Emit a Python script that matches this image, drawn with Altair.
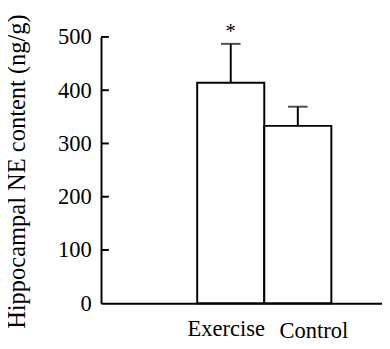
import json
import altair as alt
import pandas as pd

groups = ["Exercise", "Control"]
positions = [1, 2]
means = [414, 333]
errors = [73, 36]
sig_marks = ["*", ""]
y_tick_values = [0, 100, 200, 300, 400, 500]
inner_ticks = [100, 200, 300, 400, 500]

df = pd.DataFrame({"group": groups, "pos": positions, "mean": means, "err": errors, "sig": sig_marks})
df["upper"] = df["mean"] + df["err"]
df["left"] = df["pos"] - 0.5
df["right"] = df["pos"] + 0.5
ticks_df = pd.DataFrame({"v": inner_ticks})

FONT = "'Liberation Serif', 'Times New Roman', Times, serif"

xscale = alt.Scale(domain=[-0.934, 3.255], nice=False, zero=False)
yscale = alt.Scale(domain=[0, 500], nice=False)

label_expr = json.dumps(groups).replace('"', "'") + "[datum.value - 1]"

x_axis = alt.Axis(
    title=None, values=positions, ticks=False, tickSize=0, labelAngle=0, grid=False,
    labelExpr=label_expr,
    labelBaseline="alphabetic", labelAlign="center",
    labelPadding={"condition": {"test": "datum.value === 2", "value": 35}, "value": 33},
    labelOffset={"condition": {"test": "datum.value === 2", "value": 16}, "value": -5},
)
y_axis = alt.Axis(
    title="Hippocampal NE content (ng/g)", values=y_tick_values,
    ticks=False, tickSize=0, labelPadding=10,
    titleX=-78, titleY=137, titleAlign="center", titleBaseline="alphabetic",
    grid=False,
)

bars = alt.Chart(df).mark_bar(fill="white", stroke="black", strokeWidth=2).encode(
    x=alt.X("left:Q", scale=xscale, axis=x_axis), x2="right:Q",
    y=alt.Y("mean:Q", scale=yscale, axis=y_axis), y2=alt.datum(0),
)
err_rules = alt.Chart(df).mark_rule(color="black", strokeWidth=2).encode(
    x=alt.X("pos:Q", scale=xscale), y=alt.Y("mean:Q", scale=yscale), y2="upper:Q"
)
caps = alt.Chart(df).mark_tick(color="black", thickness=2, size=20, orient="horizontal").encode(
    x=alt.X("pos:Q", scale=xscale), y=alt.Y("upper:Q", scale=yscale)
)
stars = alt.Chart(df).mark_text(font=FONT, fontSize=21, baseline="alphabetic", dy=-6, color="black").encode(
    x=alt.X("pos:Q", scale=xscale), y=alt.Y("upper:Q", scale=yscale), text="sig:N"
)
yticks = alt.Chart(ticks_df).mark_rule(color="black", strokeWidth=2).encode(
    y=alt.Y("v:Q", scale=yscale), x=alt.value(0), x2=alt.value(8)
)

chart = alt.layer(bars, yticks, err_rules, caps, stars).properties(
    width=287, height=272,
    autosize=alt.AutoSizeParams(type="none"),
    padding={"left": 95, "top": 26, "right": 0, "bottom": 35},
    background="white",
).configure_view(stroke=None).configure_axis(
    labelFont=FONT, labelFontSize=23, labelColor="black",
    titleFont=FONT, titleFontSize=25, titleFontWeight="normal", titleColor="black",
    domainColor="black", domainWidth=2,
)

chart.save("out.html", embed_options={"renderer": "svg", "actions": False})
